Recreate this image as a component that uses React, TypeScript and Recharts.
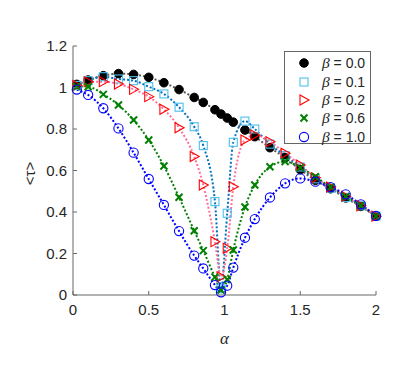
import { LineChart, Line, XAxis, YAxis, Legend } from 'recharts';

// alpha grid shared by all curves
const alpha = [0.025, 0.1, 0.2, 0.3, 0.4, 0.5, 0.6, 0.7, 0.8, 0.86, 0.937, 0.977, 1.018, 1.058, 1.135, 1.2, 1.3, 1.4, 1.5, 1.6, 1.7, 1.8, 1.9, 2.0];

const beta00 = [1.015, 1.036, 1.057, 1.067, 1.063, 1.049, 1.023, 0.99, 0.952, 0.928, 0.893, 0.872, 0.853, 0.833, 0.795, 0.763, 0.71, 0.662, 0.604, 0.553, 0.512, 0.468, 0.427, 0.379];
const beta01 = [1.01, 1.033, 1.052, 1.041, 1.033, 1.004, 0.969, 0.905, 0.811, 0.72, 0.45, 0.03, 0.394, 0.736, 0.838, 0.8, 0.727, 0.672, 0.617, 0.56, 0.515, 0.47, 0.43, 0.38];
const beta02 = [1.01, 1.028, 1.028, 1.017, 0.991, 0.956, 0.895, 0.806, 0.667, 0.53, 0.257, 0.088, 0.225, 0.522, 0.747, 0.771, 0.739, 0.683, 0.627, 0.565, 0.52, 0.475, 0.43, 0.38];
const beta06 = [1.005, 1.004, 0.967, 0.916, 0.843, 0.747, 0.622, 0.471, 0.31, 0.214, 0.086, 0.024, 0.075, 0.217, 0.424, 0.53, 0.618, 0.643, 0.614, 0.57, 0.52, 0.475, 0.43, 0.38];
const beta10 = [0.99, 0.964, 0.9, 0.803, 0.686, 0.559, 0.434, 0.308, 0.19, 0.128, 0.048, 0.013, 0.045, 0.132, 0.276, 0.366, 0.47, 0.538, 0.562, 0.546, 0.52, 0.485, 0.437, 0.381];

const xTicks = [0, 0.5, 1, 1.5, 2];
const yTicks = [0, 0.2, 0.4, 0.6, 0.8, 1, 1.2];

const data = alpha.map((a, i) => ({
  alpha: a,
  b00: beta00[i],
  b01: beta01[i],
  b02: beta02[i],
  b06: beta06[i],
  b10: beta10[i],
}));

type Kind = 'dot' | 'square' | 'tri' | 'cross' | 'circle';

const series: { key: string; label: string; kind: Kind; marker: string; line: string }[] = [
  { key: 'b00', label: '0.0', kind: 'dot', marker: '#000000', line: '#5a5a5a' },
  { key: 'b01', label: '0.1', kind: 'square', marker: '#4dbeee', line: '#0072bd' },
  { key: 'b02', label: '0.2', kind: 'tri', marker: '#ff0000', line: '#ff6f9a' },
  { key: 'b06', label: '0.6', kind: 'cross', marker: '#008000', line: '#008000' },
  { key: 'b10', label: '1.0', kind: 'circle', marker: '#0000ff', line: '#0000ff' },
];

const FONT = '"Liberation Sans", Arial, sans-serif';
const AXIS = '#666';
const TEXT = '#262626';

function marker(kind: Kind, color: string, cx: number, cy: number, key?: string) {
  switch (kind) {
    case 'dot':
      return <circle key={key} cx={cx} cy={cy} r={4.3} fill={color} stroke={color} />;
    case 'square':
      return <rect key={key} x={cx - 4} y={cy - 4} width={8} height={8} fill="none" stroke={color} strokeWidth={1.1} />;
    case 'tri':
      return (
        <polygon
          key={key}
          points={`${cx - 4},${cy - 5} ${cx + 5},${cy} ${cx - 4},${cy + 5}`}
          fill="none"
          stroke={color}
          strokeWidth={1.1}
        />
      );
    case 'cross':
      return (
        <g key={key} stroke={color} strokeWidth={2}>
          <line x1={cx - 3.5} y1={cy - 3.5} x2={cx + 3.5} y2={cy + 3.5} />
          <line x1={cx - 3.5} y1={cy + 3.5} x2={cx + 3.5} y2={cy - 3.5} />
        </g>
      );
    default:
      return <circle key={key} cx={cx} cy={cy} r={4.6} fill="none" stroke={color} strokeWidth={1.1} />;
  }
}

const fmt = (v: number) => String(v);

const BottomTick = (p: any) => (
  <g>
    <line x1={p.x} x2={p.x} y1={p.y} y2={p.y - 4} stroke={AXIS} />
    <text x={p.x} y={p.y + 20} textAnchor="middle" fontSize={15} fontFamily={FONT} fill={TEXT}>
      {fmt(p.payload.value)}
    </text>
  </g>
);

const TopTick = (p: any) => <line x1={p.x} x2={p.x} y1={p.y} y2={p.y + 4} stroke={AXIS} />;

const LeftTick = (p: any) => (
  <g>
    <line x1={p.x} x2={p.x + 4} y1={p.y} y2={p.y} stroke={AXIS} />
    <text x={p.x - 6} y={p.y + 5} textAnchor="end" fontSize={15} fontFamily={FONT} fill={TEXT}>
      {fmt(p.payload.value)}
    </text>
  </g>
);

const RightTick = (p: any) => <line x1={p.x} x2={p.x - 4} y1={p.y} y2={p.y} stroke={AXIS} />;

const renderLegend = () => (
  <div
    style={{
      width: 87,
      height: 93,
      border: '1px solid #666',
      background: '#fff',
      boxSizing: 'border-box',
      paddingTop: 2,
    }}
  >
    {series.map((s) => (
      <div key={s.key} style={{ display: 'flex', alignItems: 'center', height: 18.4 }}>
        <svg width={37} height={16} style={{ flex: 'none' }}>
          {marker(s.kind, s.marker, 19, 8)}
        </svg>
        <span style={{ fontFamily: FONT, fontSize: 14, color: TEXT, whiteSpace: 'nowrap' }}>
          <span style={{ fontFamily: '"Liberation Serif", serif', fontStyle: 'italic', fontSize: 15.5 }}>β</span>
          {' = ' + s.label}
        </span>
      </div>
    ))}
  </div>
);

export default function App() {
  return (
    <div style={{ position: 'absolute', left: 0, top: 0, background: '#fff' }}>
      <LineChart width={407} height={366} data={data} margin={{ top: 46, right: 31, bottom: 26, left: 23 }}>
        <XAxis
          dataKey="alpha"
          type="number"
          domain={[0, 2]}
          ticks={xTicks}
          tickSize={0}
          tickMargin={0}
          height={45}
          stroke={AXIS}
          tick={BottomTick}
          label={({ viewBox }: any) => (
            <text
              x={viewBox.x + viewBox.width / 2}
              y={viewBox.y + 49}
              textAnchor="middle"
              fontSize={17}
              fontStyle="italic"
              fontFamily='"Liberation Serif", serif'
              fill={TEXT}
            >
              α
            </text>
          )}
        />
        <XAxis
          xAxisId="top"
          orientation="top"
          dataKey="alpha"
          type="number"
          domain={[0, 2]}
          ticks={xTicks}
          tickSize={0}
          tickMargin={0}
          height={0}
          stroke={AXIS}
          tick={TopTick}
        />
        <YAxis
          type="number"
          domain={[0, 1.2]}
          ticks={yTicks}
          tickSize={0}
          tickMargin={0}
          width={50}
          stroke={AXIS}
          tick={LeftTick}
          label={({ viewBox }: any) => {
            const cx = viewBox.x + 8;
            const cy = viewBox.y + viewBox.height / 2 + 3;
            return (
              <text
                x={cx}
                y={cy}
                transform={`rotate(-90 ${cx} ${cy})`}
                textAnchor="middle"
                dominantBaseline="middle"
                fontSize={15}
                fontFamily={FONT}
                fill={TEXT}
              >
                {'<τ>'}
              </text>
            );
          }}
        />
        <YAxis
          yAxisId="right"
          orientation="right"
          type="number"
          domain={[0, 1.2]}
          ticks={yTicks}
          tickSize={0}
          tickMargin={0}
          width={0}
          stroke={AXIS}
          tick={RightTick}
        />
        <Legend
          layout="vertical"
          align="center"
          verticalAlign="middle"
          content={renderLegend}
          wrapperStyle={{ left: 284, top: 51, width: 87 }}
        />
        {series.map((s) => (
          <Line
            key={s.key}
            dataKey={s.key}
            type="monotone"
            stroke={s.line}
            strokeWidth={2}
            strokeDasharray="2 2"
            isAnimationActive={false}
            dot={(p: any) => marker(s.kind, s.marker, p.cx, p.cy, `${s.key}-${p.index}`)}
            activeDot={false}
          />
        ))}
      </LineChart>
    </div>
  );
}
